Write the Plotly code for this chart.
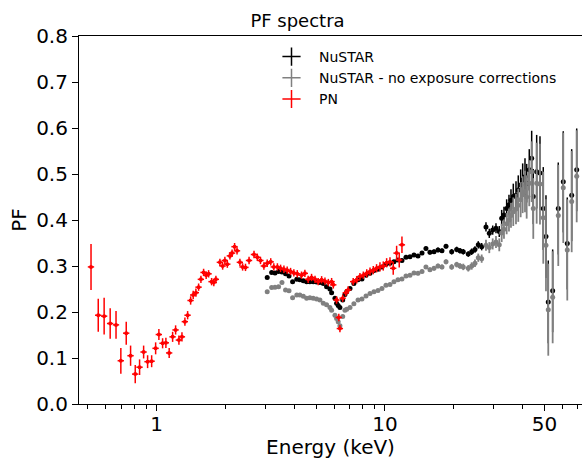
import plotly.graph_objects as go

# ---------------- data ----------------
# XMM-Newton PN pulsed fraction
pn_energy = [0.516, 0.555, 0.589, 0.626, 0.664, 0.697, 0.736, 0.769, 0.806, 0.842,
             0.877, 0.913, 0.951, 0.990, 1.023, 1.062, 1.098, 1.135, 1.175, 1.211,
             1.252, 1.291, 1.330, 1.367, 1.409, 1.446, 1.486, 1.527, 1.563, 1.606,
             1.648, 1.689, 1.741, 1.780, 1.818, 1.893, 1.946, 1.990, 2.040, 2.094,
             2.140, 2.195, 2.250, 2.316, 2.380, 2.450, 2.540, 2.67, 2.76, 2.85,
             2.95, 3.05, 3.16, 3.26, 3.38, 3.49, 3.61, 3.73, 3.86, 3.99,
             4.13, 4.31, 4.46, 4.61, 4.77, 4.94, 5.10, 5.28, 5.46, 5.65,
             5.84, 5.94, 6.14, 6.28, 6.35, 6.53, 6.74, 6.90, 7.26, 7.52,
             7.77, 8.04, 8.32, 8.60, 8.89, 9.19, 9.51, 9.83, 10.17, 10.52,
             10.87, 11.25, 11.55, 11.87]
pn_pf = [0.298, 0.193, 0.191, 0.175, 0.172, 0.094, 0.154, 0.105, 0.065, 0.080,
         0.113, 0.092, 0.093, 0.121, 0.151, 0.132, 0.133, 0.111, 0.146, 0.161,
         0.139, 0.146, 0.179, 0.193, 0.225, 0.237, 0.242, 0.254, 0.271, 0.286,
         0.280, 0.283, 0.266, 0.264, 0.271, 0.308, 0.300, 0.312, 0.304, 0.322,
         0.328, 0.342, 0.333, 0.308, 0.298, 0.297, 0.312, 0.325, 0.319, 0.312,
         0.300, 0.306, 0.309, 0.298, 0.298, 0.295, 0.293, 0.291, 0.288, 0.285,
         0.283, 0.280, 0.284, 0.271, 0.275, 0.271, 0.266, 0.270, 0.267, 0.264,
         0.266, 0.259, 0.226, 0.188, 0.164, 0.230, 0.242, 0.248, 0.266, 0.270,
         0.277, 0.280, 0.284, 0.288, 0.291, 0.295, 0.298, 0.300, 0.307, 0.309,
         0.295, 0.328, 0.313, 0.346]
pn_err = [0.050, 0.036, 0.040, 0.033, 0.030, 0.028, 0.025, 0.022, 0.020, 0.017,
          0.014, 0.014, 0.013, 0.013, 0.012, 0.011, 0.011, 0.011, 0.011, 0.010,
          0.010, 0.010, 0.009, 0.009, 0.009, 0.009, 0.009, 0.008, 0.008, 0.008,
          0.008, 0.008, 0.008, 0.008, 0.008, 0.008, 0.008, 0.008, 0.008, 0.008,
          0.008, 0.008, 0.008, 0.008, 0.008, 0.008, 0.008, 0.008, 0.008, 0.008,
          0.008, 0.008, 0.008, 0.008, 0.008, 0.008, 0.008, 0.008, 0.008, 0.008,
          0.008, 0.008, 0.008, 0.008, 0.008, 0.008, 0.008, 0.008, 0.008, 0.008,
          0.008, 0.008, 0.008, 0.008, 0.008, 0.008, 0.008, 0.008, 0.008, 0.008,
          0.008, 0.008, 0.009, 0.009, 0.009, 0.009, 0.010, 0.010, 0.010, 0.010,
          0.014, 0.016, 0.016, 0.018]

# NuSTAR energies (shared by both NuSTAR series)
nu_energy = [3.05, 3.19, 3.30, 3.42, 3.54, 3.67, 3.80, 3.94, 4.11, 4.24,
             4.39, 4.54, 4.69, 4.85, 5.02, 5.19, 5.37, 5.55, 5.74, 5.84,
             6.04, 6.14, 6.24, 6.35, 6.53, 6.68, 6.80, 7.03, 7.31, 7.62,
             7.93, 8.26, 8.60, 8.95, 9.32, 9.70, 10.10, 10.52, 10.95, 11.40,
             11.87, 12.36, 12.87, 13.40, 13.95, 14.53, 15.12, 15.74, 16.40, 17.07,
             17.77, 18.51, 19.60, 20.61, 21.31, 22.03, 23.17, 23.98, 24.79, 25.63,
             26.52, 27.70, 28.64, 29.64, 30.64, 31.67, 32.45, 33.21, 34.12, 34.93,
             35.64, 36.48, 37.49, 38.36, 39.30, 40.10, 41.05, 41.75, 42.86, 43.91,
             44.63, 46.18, 47.75, 49.36, 50.72, 51.91, 54.27, 57.42, 60.39, 62.88,
             65.74, 69.15]
nu_pf = [0.275, 0.286, 0.285, 0.288, 0.287, 0.283, 0.278, 0.266, 0.271, 0.270,
         0.268, 0.266, 0.266, 0.266, 0.265, 0.264, 0.262, 0.255, 0.250, 0.242,
         0.230, 0.219, 0.214, 0.210, 0.226, 0.238, 0.244, 0.251, 0.262, 0.270,
         0.272, 0.280, 0.284, 0.290, 0.293, 0.298, 0.304, 0.306, 0.309, 0.313,
         0.312, 0.319, 0.320, 0.324, 0.322, 0.328, 0.338, 0.330, 0.331, 0.335,
         0.333, 0.343, 0.331, 0.336, 0.333, 0.331, 0.326, 0.331, 0.336, 0.346,
         0.342, 0.385, 0.371, 0.378, 0.382, 0.375, 0.404, 0.411, 0.425, 0.433,
         0.443, 0.451, 0.454, 0.465, 0.476, 0.487, 0.494, 0.480, 0.509, 0.534,
         0.451, 0.505, 0.502, 0.425, 0.364, 0.222, 0.246, 0.425, 0.483, 0.349,
         0.454, 0.509]
nu_err = [0.003, 0.003, 0.003, 0.003, 0.003, 0.003, 0.003, 0.003, 0.003, 0.003,
          0.003, 0.003, 0.003, 0.003, 0.003, 0.003, 0.003, 0.003, 0.003, 0.003,
          0.003, 0.003, 0.003, 0.003, 0.003, 0.003, 0.003, 0.003, 0.003, 0.003,
          0.003, 0.003, 0.003, 0.003, 0.003, 0.003, 0.003, 0.003, 0.003, 0.003,
          0.004, 0.004, 0.004, 0.004, 0.004, 0.004, 0.004, 0.005, 0.005, 0.005,
          0.005, 0.005, 0.006, 0.006, 0.006, 0.006, 0.006, 0.007, 0.007, 0.008,
          0.008, 0.010, 0.010, 0.010, 0.011, 0.012, 0.018, 0.018, 0.020, 0.022,
          0.024, 0.028, 0.030, 0.032, 0.034, 0.036, 0.040, 0.042, 0.045, 0.060,
          0.060, 0.080, 0.080, 0.090, 0.090, 0.090, 0.090, 0.100, 0.110, 0.100,
          0.100, 0.090]

nu_raw_pf = [0.244, 0.253, 0.254, 0.255, 0.264, 0.248, 0.246, 0.231, 0.237, 0.237,
             0.234, 0.230, 0.231, 0.230, 0.228, 0.226, 0.219, 0.216, 0.210, 0.204,
             0.193, 0.186, 0.179, 0.170, 0.190, 0.204, 0.206, 0.210, 0.218, 0.226,
             0.228, 0.235, 0.240, 0.244, 0.247, 0.251, 0.258, 0.260, 0.266, 0.270,
             0.272, 0.278, 0.280, 0.285, 0.284, 0.288, 0.298, 0.292, 0.295, 0.300,
             0.298, 0.309, 0.298, 0.303, 0.300, 0.298, 0.295, 0.300, 0.306, 0.318,
             0.316, 0.345, 0.340, 0.348, 0.352, 0.346, 0.372, 0.380, 0.392, 0.400,
             0.410, 0.418, 0.424, 0.432, 0.444, 0.455, 0.462, 0.450, 0.480, 0.505,
             0.425, 0.480, 0.478, 0.405, 0.345, 0.205, 0.232, 0.410, 0.470, 0.335,
             0.440, 0.495]
nu_raw_err = [0.003, 0.003, 0.003, 0.003, 0.003, 0.003, 0.003, 0.003, 0.003, 0.003,
              0.003, 0.003, 0.003, 0.003, 0.003, 0.003, 0.003, 0.003, 0.003, 0.003,
              0.003, 0.003, 0.003, 0.003, 0.003, 0.003, 0.003, 0.003, 0.003, 0.003,
              0.003, 0.003, 0.003, 0.003, 0.003, 0.003, 0.003, 0.003, 0.003, 0.003,
              0.004, 0.004, 0.004, 0.004, 0.004, 0.004, 0.004, 0.005, 0.005, 0.005,
              0.005, 0.005, 0.006, 0.006, 0.006, 0.007, 0.007, 0.008, 0.008, 0.009,
              0.009, 0.012, 0.012, 0.012, 0.013, 0.014, 0.020, 0.021, 0.023, 0.025,
              0.027, 0.031, 0.033, 0.036, 0.038, 0.040, 0.045, 0.047, 0.050, 0.066,
              0.066, 0.088, 0.088, 0.100, 0.100, 0.100, 0.100, 0.110, 0.120, 0.110,
              0.110, 0.100]

series_names = ["NuSTAR", "NuSTAR - no exposure corrections", "PN"]
series_colors = ["#000000", "#808080", "#ff0000"]

x_major_ticks = [1, 10, 50]
x_major_text = ["1", "10", "50"]
x_minor_ticks = [0.5, 0.6, 0.7, 0.8, 0.9, 2, 3, 4, 5, 6, 7, 8, 9, 20, 30, 40, 60, 70]
y_ticks = [0.0, 0.1, 0.2, 0.3, 0.4, 0.5, 0.6, 0.7, 0.8]

FONT = "DejaVu Sans"

fig = go.Figure()

# black (NuSTAR)
fig.add_trace(go.Scatter(
    x=nu_energy, y=nu_pf, mode="markers", showlegend=False,
    marker=dict(color=series_colors[0], size=5),
    error_y=dict(type="data", array=nu_err, color=series_colors[0], thickness=1.5, width=0),
    error_x=dict(type="percent", value=1.2, color=series_colors[0], thickness=1.5, width=0),
))
# gray (uncorrected NuSTAR)
fig.add_trace(go.Scatter(
    x=nu_energy, y=nu_raw_pf, mode="markers", showlegend=False,
    marker=dict(color=series_colors[1], size=5),
    error_y=dict(type="data", array=nu_raw_err, color=series_colors[1], thickness=1.8, width=0),
    error_x=dict(type="percent", value=1.2, color=series_colors[1], thickness=1.5, width=0),
))
# red (PN)
fig.add_trace(go.Scatter(
    x=pn_energy, y=pn_pf, mode="markers", showlegend=False,
    marker=dict(color=series_colors[2], size=4),
    error_y=dict(type="data", array=pn_err, color=series_colors[2], thickness=1.5, width=0),
    error_x=dict(type="percent", value=3.2, color=series_colors[2], thickness=1.5, width=0),
))

# legend glyphs (error-bar crosses)
for name, col in zip(series_names, series_colors):
    fig.add_trace(go.Scatter(
        x=[None], y=[None], mode="markers", name=name,
        marker=dict(symbol="cross-thin", size=13, color=col, line=dict(color=col, width=1.5)),
    ))

fig.update_layout(
    width=582, height=459,
    margin=dict(l=79, r=0, t=36, b=55, autoexpand=False),
    paper_bgcolor="white", plot_bgcolor="white",
    font=dict(family=FONT, color="black", size=18),
    title=dict(text="PF spectra", x=297.5 / 582, xref="container", xanchor="center",
               y=1 - 21 / 459, yref="container", yanchor="middle",
               font=dict(family=FONT, size=18, color="black")),
    legend=dict(x=(264 - 79) / 503, xanchor="left", y=1 - (41 - 36) / 368, yanchor="top",
                bgcolor="rgba(0,0,0,0)", borderwidth=0, itemwidth=45,
                font=dict(family=FONT, size=14, color="black"), tracegroupgap=0),
    showlegend=True,
)

fig.update_xaxes(
    type="log", range=[-0.340, 1.863],
    tickmode="array", tickvals=x_major_ticks, ticktext=x_major_text,
    ticks="outside", ticklen=6, tickwidth=1.1, tickcolor="black",
    ticklabelstandoff=-4,
    minor=dict(tickmode="array", tickvals=x_minor_ticks, ticks="outside",
               ticklen=3.5, tickwidth=0.9, tickcolor="black", showgrid=False),
    showline=True, linecolor="black", linewidth=1.1, mirror=True,
    showgrid=False, zeroline=False, automargin=False,
    tickfont=dict(family=FONT, size=20, color="black"),
    title=dict(text="Energy (keV)", font=dict(family=FONT, size=20, color="black"), standoff=10),
)
fig.update_yaxes(
    range=[0, 0.8], tickmode="array", tickvals=y_ticks,
    tickformat=".1f",
    ticks="outside", ticklen=6, tickwidth=1.1, tickcolor="black",
    showline=True, linecolor="black", linewidth=1.1, mirror=False,
    showgrid=False, zeroline=False, automargin=False,
    tickfont=dict(family=FONT, size=20, color="black"),
    title=dict(text="PF", font=dict(family=FONT, size=20, color="black"), standoff=4),
)

fig.write_html("out.html",
               config={"displayModeBar": False},
               post_script="document.body.style.margin='0';document.body.style.overflow='hidden';")
